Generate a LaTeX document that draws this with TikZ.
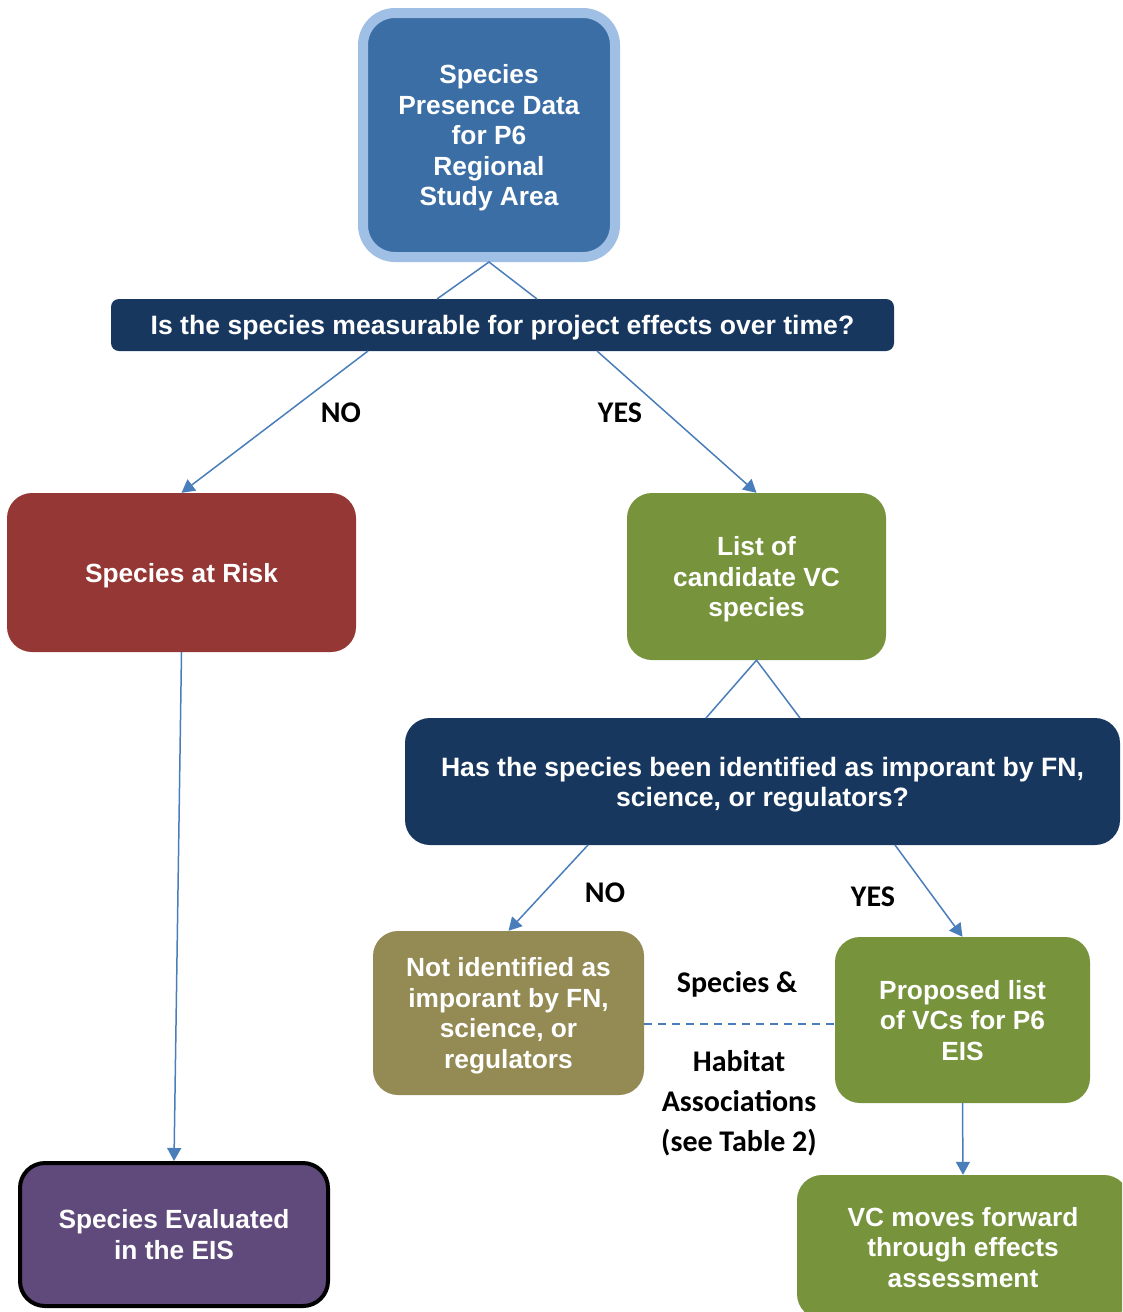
\documentclass[tikz,border=0pt]{standalone}
\usepackage{fontspec}
\setmainfont{Liberation Sans}
\newfontfamily\boxfont{Liberation Sans}
\newfontfamily\labfont{Carlito}
\usetikzlibrary{arrows.meta}
\definecolor{topblue}{HTML}{3B6EA5}
\definecolor{glow}{HTML}{9FBFE4}
\definecolor{navy}{HTML}{17375E}
\definecolor{riskred}{HTML}{953735}
\definecolor{vcgreen}{HTML}{77933C}
\definecolor{khaki}{HTML}{948A54}
\definecolor{evalpurple}{HTML}{604A7B}
\definecolor{lineblue}{HTML}{4A7EBB}
\tikzset{
  box/.style={rectangle, rounded corners=25pt, text=white, align=center, inner sep=0pt,
    text depth=-3pt, font=\boxfont\bfseries\fontsize{26.3}{30.5}\selectfont},
  bar/.style={rectangle, fill=navy, rounded corners=8pt, text=white, align=center, inner sep=0pt,
    text depth=-4pt, font=\boxfont\bfseries\fontsize{26.6}{30}\selectfont},
  lab/.style={align=center, inner sep=0pt, font=\labfont\bfseries\fontsize{30}{40}\selectfont},
  conn/.style={draw=lineblue, line width=1.5pt},
  arr/.style={draw=lineblue, line width=1.5pt, -{Triangle[length=13pt,width=14pt]}},
  dashconn/.style={draw=lineblue, line width=2pt, dash pattern=on 8pt off 6pt}
}
\begin{document}
\begin{tikzpicture}[x=1pt,y=-1pt]
\useasboundingbox (0,0) rectangle (1122,1312);
\begin{scope}
\clip (0,0) rectangle (1122,1312);
% nodes
\node[box, fill=topblue, draw=glow, line width=10pt, rounded corners=32pt,
  minimum width=252pt, minimum height=244pt, text depth=0pt] (top) at (489,135)
  {Species\\Presence Data\\for P6\\Regional\\Study Area};
\node[bar, minimum width=783pt, minimum height=52pt] (q1) at (502.5,325)
  {Is the species measurable for project effects over time?};
\node[box, fill=riskred, minimum width=349pt, minimum height=159pt] (sar) at (181.5,572.5)
  {Species at Risk};
\node[box, fill=vcgreen, minimum width=259pt, minimum height=167pt] (list) at (756.5,576.5)
  {List of\\candidate VC\\species};
\node[bar, rounded corners=25pt, minimum width=715pt, minimum height=127pt] (q2) at (762.5,781.5)
  {Has the species been identified as imporant by FN,\\science, or regulators?};
\node[box, fill=khaki, minimum width=271pt, minimum height=164pt] (notid) at (508.5,1013)
  {Not identified as\\imporant by FN,\\science, or\\regulators};
\node[box, fill=vcgreen, minimum width=255pt, minimum height=166pt] (prop) at (962.5,1020)
  {Proposed list\\of VCs for P6\\EIS};
\node[box, fill=vcgreen, minimum width=332pt, minimum height=144pt, text depth=0pt] (vc) at (963,1247)
  {VC moves forward\\through effects\\assessment};
\node[box, fill=evalpurple, draw=black, line width=4pt, minimum width=308pt, minimum height=143pt, text depth=-4pt] (eval) at (174,1234.5)
  {Species Evaluated\\in the EIS};
% labels
\node[lab] (no1) at (341,413) {NO};
\node[lab] (yes1) at (620,413) {YES};
\node[lab] (no2) at (605,893) {NO};
\node[lab] (yes2) at (873,897) {YES};
\node[lab] (sp) at (737,984) {Species \&};
\node[lab] (hab) at (739,1103) {Habitat\\Associations\\(see Table 2)};
% coordinates
\coordinate (t1l) at (437,299);
\coordinate (t1r) at (537,299);
\coordinate (t2l) at (706,718);
\coordinate (t2r) at (800,718);
\coordinate (q1l) at (368,351);
\coordinate (q1r) at (597,351);
\coordinate (q2l) at (588,845);
\coordinate (q2r) at (895,845);
\coordinate (dl) at (0,1024);
% connectors
\draw[conn] (t1l) -- (top.south) -- (t1r);
\draw[conn] (t2l) -- (list.south) -- (t2r);
\draw[arr] (q1l) -- (sar.north);
\draw[arr] (q1r) -- (list.north);
\draw[arr] (sar.south) -- (eval.north);
\draw[arr] (q2l) -- (notid.north);
\draw[arr] (q2r) -- (prop.north);
\draw[arr] (prop.south) -- (vc.north);
\draw[dashconn] (notid.east |- dl) -- (prop.west |- dl);
\end{scope}
\end{tikzpicture}
\end{document}
